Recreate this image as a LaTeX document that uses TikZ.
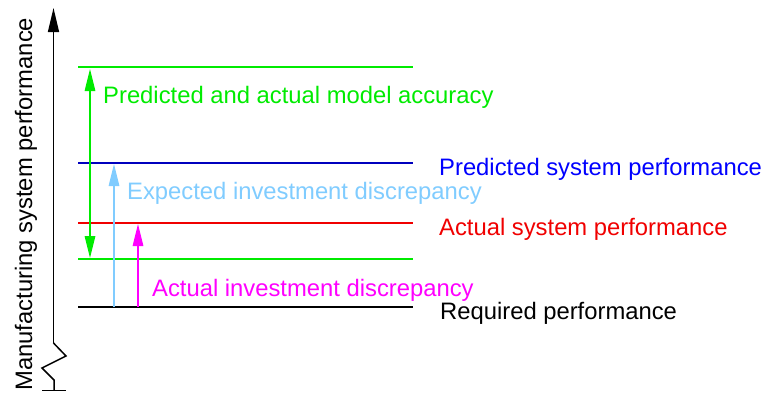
\documentclass[tikz,border=0pt]{standalone}
\usepackage{fontspec}
\setmainfont{Liberation Sans}
\usetikzlibrary{arrows.meta}
\definecolor{cgreen}{RGB}{0,235,0}
\definecolor{cblue}{RGB}{0,0,255}
\definecolor{cnavy}{RGB}{0,0,190}
\definecolor{cred}{RGB}{240,0,0}
\definecolor{clight}{RGB}{128,204,255}
\definecolor{cmag}{RGB}{255,0,255}
\tikzset{
  lab/.style={inner sep=0pt, anchor=base west, font=\fontsize{23.8}{28}\selectfont},
  lvline/.style={line width=1.4pt, draw=#1},
  tri/.style={-{Triangle[length=22pt,width=10.5pt]}, line width=1.3pt},
  dtri/.style={{Triangle[length=22pt,width=10.5pt]}-{Triangle[length=22pt,width=10.5pt]}, line width=1.3pt},
}
\begin{document}
\begin{tikzpicture}[x=1pt,y=-1pt]
\useasboundingbox (0,0) rectangle (768,392);
% axis
\coordinate (axtop) at (53.5,8);
\coordinate (axlow) at (53.5,343);
\coordinate (z1) at (66,356);
\coordinate (z2) at (42,368);
\coordinate (z3) at (54,380);
\coordinate (axbot) at (54,390.5);
\coordinate (tl) at (42,390.5);
\coordinate (tr) at (66,390.5);
\draw[line width=1.5pt, -{Triangle[length=24pt,width=11pt]}] (axlow) -- (axtop);
\draw[line width=1.5pt, line join=miter] (axlow) -- (z1) -- (z2) -- (z3) -- (axbot);
\draw[line width=1.5pt] (tl) -- (tr);
\node[lab, rotate=90] (ylab) at (32,391) {Manufacturing system performance};
% levels
\coordinate (g1l) at (78,67);   \coordinate (g1r) at (413,67);
\coordinate (bl) at (78,163);   \coordinate (br) at (413,163);
\coordinate (rl) at (78,223);   \coordinate (rr) at (413,223);
\coordinate (g2l) at (78,259);  \coordinate (g2r) at (413,259);
\coordinate (kl) at (78,307);   \coordinate (kr) at (413,307);
\draw[lvline=cgreen] (g1l) -- (g1r);
\draw[lvline=cnavy] (bl) -- (br);
\draw[lvline=cred] (rl) -- (rr);
\draw[lvline=cgreen] (g2l) -- (g2r);
\draw[lvline=black] (kl) -- (kr);
% arrows
\coordinate (ga) at (90,69);  \coordinate (gb) at (90,258);
\coordinate (la) at (114,307); \coordinate (lb) at (114,164);
\coordinate (ma) at (138,307); \coordinate (mb) at (138,224);
\draw[dtri, cgreen] (ga) -- (gb);
\draw[tri, clight] (la) -- (lb);
\draw[tri, cmag] (ma) -- (mb);
% labels
\node[lab, text=cgreen] (acc) at (103,103) {Predicted and actual model accuracy};
\node[lab, text=cblue] (pred) at (439,175) {Predicted system performance};
\node[lab, text=clight] (exp) at (127,199) {Expected investment discrepancy};
\node[lab, text=cred] (act) at (439,235) {Actual system performance};
\node[lab, text=cmag] (ainv) at (152,296) {Actual investment discrepancy};
\node[lab, text=black] (req) at (440,319) {Required performance};
\end{tikzpicture}
\end{document}
